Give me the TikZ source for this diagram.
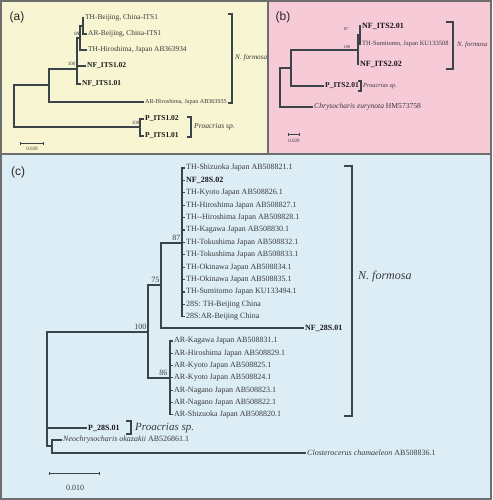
\documentclass[tikz,border=0pt]{standalone}
\usepackage{fontspec}
\setmainfont{Liberation Serif}
\newfontfamily\panelfont{Liberation Sans}
\usetikzlibrary{arrows.meta}
\definecolor{bga}{HTML}{F7F5D2}
\definecolor{bgb}{HTML}{F6CAD7}
\definecolor{bgc}{HTML}{DCEDF6}
\definecolor{framegray}{HTML}{6E6E6E}
\definecolor{treeline}{HTML}{3B434B}
\definecolor{labeltext}{HTML}{3A3A3A}
\newcommand{\tsize}[1]{\fontsize{#1}{#1}\selectfont}
\tikzset{
  branch/.style={draw=treeline, line width=1.1pt},
  bracket/.style={draw=treeline, line width=1.3pt},
  leaf/.style={anchor=west, inner sep=1pt, text=labeltext},
  boldleaf/.style={leaf, text=black!90, font=\bfseries\tsize{#1}},
  boot/.style={anchor=south east, inner sep=0.5pt, text=labeltext, font=\tsize{#1}},
  panel/.style={font=\panelfont\tsize{12}, text=black!85},
  scalebar/.style={draw=treeline, line width=0.9pt, {Bar[width=3pt]}-{Bar[width=3pt]}},
}
\begin{document}
\begin{tikzpicture}[x=1pt,y=-1pt]
\useasboundingbox (0,0) rectangle (492,500);
\fill[bga] (0,0) rectangle (268,154);
\fill[bgb] (268,0) rectangle (492,154);
\fill[bgc] (0,154) rectangle (492,500);
\draw[framegray, line width=2pt] (1,1) rectangle (491,499);
\draw[framegray, line width=2pt] (268,0) -- (268,154) (0,154) -- (492,154);

% (a)
\node[panel] (laba) at (17,17) {(a)};
\coordinate (ra) at (14,106);
\coordinate (a1) at (49,85);
\coordinate (a2) at (77,69);
\coordinate (a3) at (80,38);
\coordinate (a4) at (83,26);
\coordinate (a5) at (140,127);
\node[leaf, font=\tsize{7.4}] (thbj) at (84,18) {TH-Beijing, China-ITS1};
\node[leaf, font=\tsize{7.4}] (arbj) at (87,34) {AR-Beijing, China-ITS1};
\node[leaf, font=\tsize{7.4}] (thhi) at (87,50) {TH-Hiroshima, Japan AB363934};
\node[boldleaf=7.5] (nf102) at (86,66) {NF\_ITS1.02};
\node[boldleaf=7.5] (nf101) at (81,84) {NF\_ITS1.01};
\node[leaf, font=\tsize{6.1}] (arhi) at (144,102) {AR-Hiroshima, Japan AB363935};
\node[boldleaf=7.5] (p102) at (144,119) {P\_ITS1.02};
\node[boldleaf=7.5] (p101) at (144,136) {P\_ITS1.01};
\draw[branch] (a4) |- (thbj.west) (a4) |- (arbj.west);
\draw[branch] (a3) |- (a4) (a3) |- (thhi.west);
\draw[branch] (a2) |- (a3) (a2) |- (nf102.west) (a2) |- (nf101.west);
\draw[branch] (a1) |- (a2) (a1) |- (arhi.west);
\draw[branch] (a5) |- (p102.west) (a5) |- (p101.west);
\draw[branch] (ra) |- (a1) (ra) |- (a5);
\node[boot=5] (b89) at (80,36) {89};
\node[boot=5] (b100a) at (76,66) {100};
\node[boot=5] (b100p) at (140,125) {100};
\draw[bracket] (228,14) -- (232,14) -- (232,103) -- (228,103);
\node[leaf, font=\itshape\tsize{7.2}] (nfa) at (234,58) {N. formosa};
\draw[bracket] (187,117) -- (191,117) -- (191,137) -- (187,137);
\node[leaf, font=\itshape\tsize{7.6}] (pra) at (193,127) {Proacrias sp.};
\draw[scalebar] (20,143) -- (44,143);
\node[text=labeltext, font=\tsize{5}] (sca) at (32,149) {0.020};

% (b)
\node[panel] (labb) at (283,17) {(b)};
\coordinate (rb) at (280,88);
\coordinate (b1) at (291,68);
\coordinate (b2) at (358,50);
\coordinate (b3) at (360,35);
\node[boldleaf=8] (nf201) at (361,26) {NF\_ITS2.01};
\node[leaf, font=\tsize{6.5}] (thsu) at (361,44) {TH-Sumitomo, Japan KU133508};
\node[boldleaf=8] (nf202) at (359,64) {NF\_ITS2.02};
\node[boldleaf=7.5] (p201) at (324,86) {P\_ITS2.01};
\node[leaf, font=\tsize{7.6}] (chry) at (313,107) {\itshape Chrysocharis eurynota\upshape{} HM573758};
\draw[branch] (b3) |- (nf201.west) (b3) |- (thsu.west);
\draw[branch] (b2) |- (b3) (b2) |- (nf202.west);
\draw[branch] (b1) |- (b2) (b1) |- (p201.west);
\draw[branch] (rb) |- (b1) (rb) |- (chry.west);
\node[boot=4.5] (b87) at (349,31) {87};
\node[boot=4.5] (b100b) at (351,49) {100};
\draw[bracket] (446,22) -- (453,22) -- (453,69) -- (446,69);
\node[leaf, font=\itshape\tsize{6.8}] (nfb) at (456,45) {N. formosa};
\draw[bracket] (358,81) -- (361,81) -- (361,91) -- (358,91);
\node[leaf, font=\itshape\tsize{6.3}] (prb) at (362,86) {Proacrias sp.};
\draw[scalebar] (288,134) -- (300,134);
\node[text=labeltext, font=\tsize{5}] (scb) at (294,141) {0.020};

% (c)
\node[panel] (labc) at (18,172) {(c)};
\coordinate (rc) at (47,390);
\coordinate (c100) at (148,332);
\coordinate (c75) at (161,285);
\coordinate (c87) at (182,243);
\coordinate (c86) at (170,378);
\coordinate (cout) at (52,446);
\node[leaf, font=\tsize{8}] (th0) at (185,168) {TH-Shizuoka Japan AB508821.1};
\node[boldleaf=8] (th1) at (185,180.4) {NF\_28S.02};
\node[leaf, font=\tsize{8}] (th2) at (185,192.8) {TH-Kyoto Japan AB508826.1};
\node[leaf, font=\tsize{8}] (th3) at (185,205.2) {TH-Hiroshima Japan AB508827.1};
\node[leaf, font=\tsize{8}] (th4) at (185,217.6) {TH-{}-Hiroshima Japan AB508828.1};
\node[leaf, font=\tsize{8}] (th5) at (185,230) {TH-Kagawa Japan AB508830.1};
\node[leaf, font=\tsize{8}] (th6) at (185,242.4) {TH-Tokushima Japan AB508832.1};
\node[leaf, font=\tsize{8}] (th7) at (185,254.8) {TH-Tokushima Japan AB508833.1};
\node[leaf, font=\tsize{8}] (th8) at (185,267.2) {TH-Okinawa Japan AB508834.1};
\node[leaf, font=\tsize{8}] (th9) at (185,279.6) {TH-Okinawa Japan AB508835.1};
\node[leaf, font=\tsize{8}] (th10) at (185,292) {TH-Sumitomo Japan KU133494.1};
\node[leaf, font=\tsize{8}] (th11) at (185,304.4) {28S: TH-Beijing China};
\node[leaf, font=\tsize{8}] (th12) at (185,316.8) {28S:AR-Beijing China};
\node[leaf, font=\tsize{8}] (ar0) at (173,341) {AR-Kagawa Japan AB508831.1};
\node[leaf, font=\tsize{8}] (ar1) at (173,353.3) {AR-Hiroshima Japan AB508829.1};
\node[leaf, font=\tsize{8}] (ar2) at (173,365.6) {AR-Kyoto Japan AB508825.1};
\node[leaf, font=\tsize{8}] (ar3) at (173,377.9) {AR-Kyoto Japan AB508824.1};
\node[leaf, font=\tsize{8}] (ar4) at (173,390.2) {AR-Nagano Japan AB508823.1};
\node[leaf, font=\tsize{8}] (ar5) at (173,402.5) {AR-Nagano Japan AB508822.1};
\node[leaf, font=\tsize{8}] (ar6) at (173,414.8) {AR-Shizuoka Japan AB508820.1};
\node[boldleaf=8] (nf01) at (304,328) {NF\_28S.01};
\node[boldleaf=8] (p01) at (87,428) {P\_28S.01};
\node[leaf, font=\tsize{8}] (neo) at (62,440) {\itshape Neochrysocharis okazakii\upshape{} AB526861.1};
\node[leaf, font=\tsize{8}] (clo) at (306,453) {\itshape Closterocerus chamaeleon\upshape{} AB508836.1};
\draw[branch] (c87) |- (th0.west) (c87) |- (th1.west) (c87) |- (th2.west) (c87) |- (th3.west)
  (c87) |- (th4.west) (c87) |- (th5.west) (c87) |- (th6.west) (c87) |- (th7.west)
  (c87) |- (th8.west) (c87) |- (th9.west) (c87) |- (th10.west) (c87) |- (th11.west)
  (c87) |- (th12.west);
\draw[branch] (c86) |- (ar0.west) (c86) |- (ar1.west) (c86) |- (ar2.west) (c86) |- (ar3.west)
  (c86) |- (ar4.west) (c86) |- (ar5.west) (c86) |- (ar6.west);
\draw[branch] (c75) |- (c87) (c75) |- (nf01.west);
\draw[branch] (c100) |- (c75) (c100) |- (c86);
\draw[branch] (cout) |- (neo.west) (cout) |- (clo.west);
\draw[branch] (rc) |- (c100) (rc) |- (p01.west) (rc) |- (cout);
\node[boot=8] (c87l) at (181,241) {87};
\node[boot=8] (c75l) at (160,283) {75};
\node[boot=8] (c100l) at (147,330) {100};
\node[boot=8] (c86l) at (168,376) {86};
\draw[bracket] (344,166) -- (352,166) -- (352,416) -- (344,416);
\node[leaf, font=\itshape\tsize{12}] (nfc) at (357,277) {N. formosa};
\draw[bracket] (126,421) -- (131,421) -- (131,434) -- (126,434);
\node[leaf, font=\itshape\tsize{11}] (prc) at (134,428) {Proacrias sp.};
\draw[scalebar] (49,473) -- (100,473);
\node[text=labeltext, font=\tsize{8}] (scc) at (75,488) {0.010};
\end{tikzpicture}
\end{document}
